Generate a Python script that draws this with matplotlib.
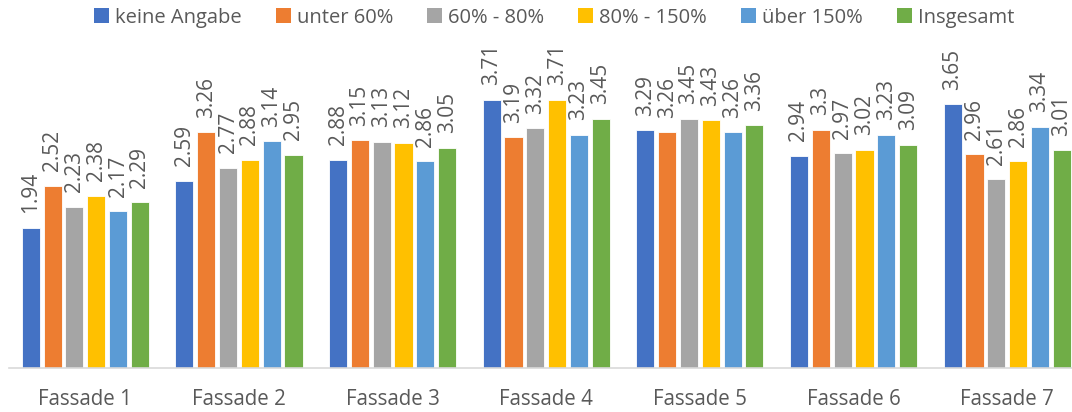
import numpy as np
import matplotlib.pyplot as plt
from matplotlib.patches import Patch

categories = ['Fassade 1', 'Fassade 2', 'Fassade 3', 'Fassade 4',
              'Fassade 5', 'Fassade 6', 'Fassade 7']
series_names = ['keine Angabe', 'unter 60%', '60% - 80%', '80% - 150%',
                'über 150%', 'Insgesamt']

keine_angabe = [1.94, 2.59, 2.88, 3.71, 3.29, 2.94, 3.65]
unter_60 = [2.52, 3.26, 3.15, 3.19, 3.26, 3.3, 2.96]
p60_80 = [2.23, 2.77, 3.13, 3.32, 3.45, 2.97, 2.61]
p80_150 = [2.38, 2.88, 3.12, 3.71, 3.43, 3.02, 2.86]
ueber_150 = [2.17, 3.14, 2.86, 3.23, 3.26, 3.23, 3.34]
insgesamt = [2.29, 2.95, 3.05, 3.45, 3.36, 3.09, 3.01]

series = [keine_angabe, unter_60, p60_80, p80_150, ueber_150, insgesamt]
colors = ['#4472C4', '#ED7D31', '#A5A5A5', '#FFC000', '#5B9BD5', '#70AD47']

plt.rcParams['font.family'] = ['Open Sans', 'DejaVu Sans']
text_color = '#595959'

fig = plt.figure(figsize=(10.72, 4.12), dpi=100)
# axes: left 8.5px, baseline at 367.7px, right edge cut at image border
ax = fig.add_axes([8.5 / 1072, 44.3 / 412, 1063.5 / 1072, 332 / 412])

x = np.arange(len(categories))
step = 0.142
width = 0.118
for i, (vals, col) in enumerate(zip(series, colors)):
    pos = x + (i - 2.5) * step
    ax.bar(pos, vals, width=width, color=col, edgecolor='white', linewidth=0.6)
    for p, v in zip(pos, vals):
        ax.text(p, v + 0.2, f'{v:g}', rotation=90, ha='center', va='bottom',
                fontsize=15, color=text_color, clip_on=False)

ax.set_xlim(-0.5, 6.5 - 12 / 153.7)
ax.set_ylim(0, 4.6)
ax.set_xticks(x)
ax.set_xticklabels(categories, fontsize=14.8, color=text_color)
ax.tick_params(axis='x', length=0, pad=15)
ax.set_yticks([])
for s in ['top', 'right', 'left']:
    ax.spines[s].set_visible(False)
ax.spines['bottom'].set_color('#D9D9D9')
ax.spines['bottom'].set_linewidth(1.2)

handles = [Patch(facecolor=c, edgecolor='none') for c in colors]
fig.legend(handles, series_names, loc='upper center', bbox_to_anchor=(0.517, 1.025),
           ncol=6, frameon=False, fontsize=14.5, handlelength=0.75, handleheight=0.75,
           handletextpad=0.3, columnspacing=1.68, labelcolor=text_color)

fig.savefig('out.png', dpi=100)
